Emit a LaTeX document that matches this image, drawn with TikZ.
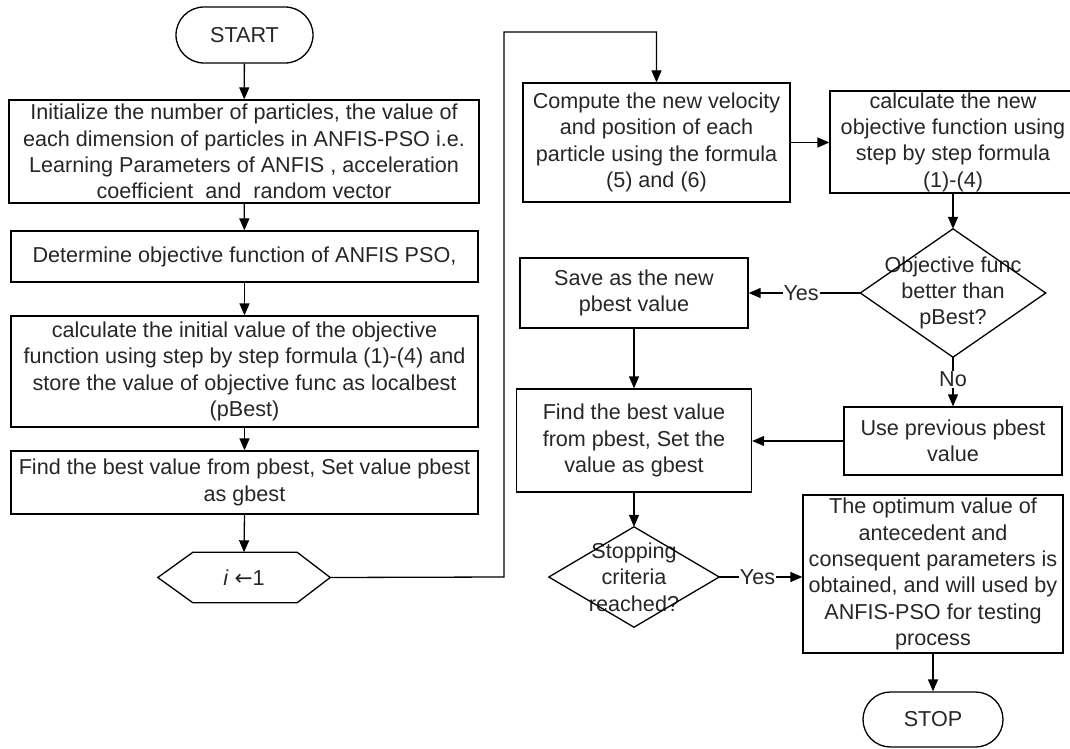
\documentclass[tikz,border=0pt]{standalone}
\usepackage{fontspec}
\setmainfont{Liberation Sans}
\newfontfamily\symfont{DejaVu Sans}
\usetikzlibrary{arrows.meta,shapes.misc}
\begin{document}
\begin{tikzpicture}[x=1pt,y=-1pt,
  every node/.style={font=\fontsize{21.6}{26.3}\selectfont, text=black!85},
  box/.style={draw, line width=1.3pt, rectangle, align=center, inner sep=0pt},
  term/.style={draw, line width=1.3pt, rounded rectangle, align=center, inner sep=0pt, minimum width=137pt, minimum height=56pt},
  ghost/.style={rectangle, align=center, inner sep=0pt},
  arr/.style={line width=1.3pt, -{Triangle[length=12pt,width=10pt]}},
  ln/.style={line width=1.3pt},
  lbl/.style={fill=white, inner sep=1pt}]
\useasboundingbox (0,0) rectangle (1070,749);

% left column
\node[term] (start) at (244.5,35) {START};
\node[box, minimum width=470pt, minimum height=103pt] (init) at (244,151.5)
  {Initialize the number of particles, the value of\\each dimension of particles in ANFIS-PSO i.e.\\Learning Parameters of ANFIS , acceleration\\coefficient\ \ and\ \ random vector};
\node[box, minimum width=467pt, minimum height=51pt] (det) at (244.5,256.5)
  {Determine objective function of ANFIS PSO,};
\node[box, minimum width=467pt, minimum height=111pt] (calc) at (244.5,371.5)
  {calculate the initial value of the objective\\function using step by step formula (1)-(4) and\\store the value of objective func as localbest\\(pBest)};
\node[box, minimum width=467pt, minimum height=63pt] (find) at (244.5,482.5)
  {Find the best value from pbest, Set value pbest\\as gbest};
\node[ghost, minimum width=172pt, minimum height=50pt] (hex) at (244,577.5)
  {\textit{i} {\symfont\char"2190}1};
\draw[ln] (hex.west) -- ([xshift=35pt]hex.north west) -- ([xshift=-33pt]hex.north east)
  -- (hex.east) -- ([xshift=-33pt]hex.south east) -- ([xshift=35pt]hex.south west) -- cycle;

% right part
\node[box, minimum width=267pt, minimum height=119pt] (comp) at (656.5,142.5)
  {Compute the new velocity\\and position of each\\particle using the formula\\(5) and (6)};
\node[box, minimum width=246pt, minimum height=102pt] (cnew) at (953,142)
  {calculate the new\\objective function using\\step by step formula\\(1)-(4)};
\node[ghost, minimum width=185pt, minimum height=128pt] (d1) at (953,293)
  {Objective func\\better than\\pBest?};
\draw[ln] (d1.north) -- (d1.east) -- (d1.south) -- (d1.west) -- cycle;
\node[box, minimum width=228pt, minimum height=70pt] (save) at (634,293)
  {Save as the new\\pbest value};
\node[box, minimum width=235pt, minimum height=103pt] (find2) at (634,440.5)
  {Find the best value\\from pbest, Set the\\value as gbest};
\node[box, minimum width=218pt, minimum height=68pt] (prev) at (953,441)
  {Use previous pbest\\value};
\node[ghost, minimum width=170pt, minimum height=100pt] (d2) at (634,577)
  {Stopping\\criteria\\reached?};
\draw[ln] (d2.north) -- (d2.east) -- (d2.south) -- (d2.west) -- cycle;
\node[box, minimum width=260pt, minimum height=158pt] (opt) at (933,574)
  {The optimum value of\\antecedent and\\consequent parameters is\\obtained, and will used by\\ANFIS-PSO for testing\\process};
\node[term, minimum width=140pt, minimum height=55pt] (stop) at (933,719.5) {STOP};

% loop corners
\coordinate (c1) at (504,577);
\coordinate (c2) at (504,32);
\coordinate (c3) at (656.5,32);

% connectors
\draw[arr] (start) -- (init);
\draw[arr] (init) -- (det);
\draw[arr] (det) -- (calc);
\draw[arr] (calc) -- (find);
\draw[arr] (find.south) -- (hex.north);
\draw[arr] (hex.east) -- (c1) -- (c2) -- (c3) -- (comp.north);
\draw[arr] (comp.east) -- (comp.east -| cnew.west);
\draw[arr] (cnew.south) -- (d1.north);
\draw[arr] (d1.west) -- node[lbl, pos=0.53] {Yes} (save.east);
\draw[arr] (d1.south) -- node[lbl, pos=0.45] {No} (prev.north);
\draw[arr] (save.south) -- (find2.north);
\draw[arr] (prev.west) -- (prev.west -| find2.east);
\draw[arr] (find2.south) -- (d2.north);
\draw[arr] (d2.east) -- node[lbl, pos=0.46] {Yes} (d2.east -| opt.west);
\draw[arr] (opt.south) -- (stop.north);
\end{tikzpicture}
\end{document}
